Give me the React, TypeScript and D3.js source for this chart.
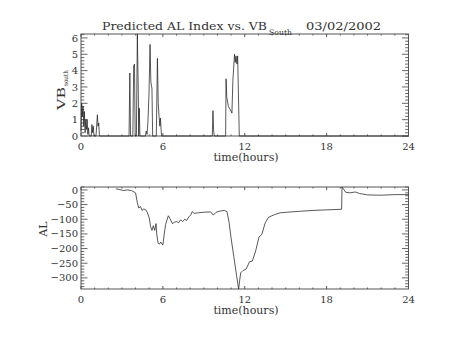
import React, { useEffect, useRef } from 'react';
import * as d3 from 'd3';

// VB south (top panel)
const vbTime = [0, 0.05, 0.1, 0.15, 0.2, 0.25, 0.3, 0.35, 0.4, 0.45, 0.5, 0.55, 0.6, 0.75, 0.8, 0.85, 0.9, 0.95, 1.1, 1.2, 1.25, 1.3, 1.35, 3.52, 3.58, 3.63, 3.8, 3.86, 3.92, 3.97, 4.06, 4.13, 4.2, 4.23, 4.27, 4.32, 4.72, 4.78, 4.84, 4.9, 4.98, 5.06, 5.12, 5.2, 5.25, 5.52, 5.6, 5.66, 5.72, 5.78, 5.82, 5.9, 9.62, 9.67, 9.72, 9.77, 10.6, 10.63, 10.68, 10.8, 10.95, 11.06, 11.13, 11.25, 11.3, 11.36, 11.43, 11.48, 11.6, 24];
const vbValue = [0.3, 2.0, 1.2, 1.8, 0.6, 1.5, 0.2, 1.0, 0.4, 1.0, 0.1, 0.5, 0, 0, 0.7, 0.2, 0.6, 0, 0, 1.3, 0.6, 0.8, 0, 0, 3.85, 0, 0, 4.3, 4.4, 0, 0, 6.24, 2.5, 0, 1.7, 0, 0, 0.3, 0.1, 0.8, 2.5, 5.6, 3.3, 2.9, 0, 0, 4.75, 2.0, 1.2, 0.6, 1.1, 0, 0, 1.55, 0.3, 0, 0, 3.5, 2.4, 1.8, 1.6, 1.4, 3.4, 5.0, 4.5, 4.9, 4.4, 4.9, 0, 0];

// predicted AL (bottom panel)
const alTime = [2.55, 2.85, 3.1, 3.4, 3.7, 4.0, 4.13, 4.23, 4.35, 4.48, 4.6, 4.75, 4.85, 5.0, 5.1, 5.2, 5.3, 5.4, 5.5, 5.55, 5.65, 5.75, 5.85, 6.0, 6.1, 6.2, 6.4, 6.55, 6.7, 6.85, 7.0, 7.15, 7.3, 7.45, 7.6, 7.75, 7.9, 8.05, 8.15, 8.3, 8.6, 9.0, 9.5, 9.7, 9.9, 10.2, 10.5, 10.7, 10.85, 11.0, 11.2, 11.4, 11.55, 11.7, 11.87, 12.1, 12.35, 12.55, 12.8, 13.05, 13.25, 13.5, 13.75, 14.2, 14.6, 15.1, 16.0, 17.0, 18.0, 19.1, 19.13, 19.4, 19.7, 20.1, 20.4, 21.0, 22.0, 23.0, 24.0];
const alValue = [4, 1, -2, 0, -2, -10, -44, -62, -56, -70, -65, -68, -76, -95, -125, -138, -122, -138, -115, -150, -182, -185, -178, -188, -150, -118, -88, -100, -115, -110, -108, -112, -102, -108, -100, -104, -92, -85, -74, -80, -78, -76, -75, -86, -76, -72, -70, -74, -110, -165, -228, -292, -338, -283, -275, -270, -245, -243, -208, -160, -152, -112, -93, -84, -78, -76, -73, -70, -68, -66, 10, -8, -10, -7, -12, -17, -18, -16, -16];

const xTicks = [0, 6, 12, 18, 24];
const vbTicks = [0, 1, 2, 3, 4, 5, 6];
const alTicks = [0, -50, -100, -150, -200, -250, -300];

const W = 454;
const H = 341;
const LEFT = 81;
const RIGHT = 408.5;
const FONT = 'DejaVu Serif';
const INK = '#555';
const TXT = '#333';

type Panel = {
  top: number;
  bottom: number;
  yDomain: [number, number];
  yTicks: number[];
  yMinorStep: number;
  t: number[];
  v: number[];
};

function drawPanel(svg: d3.Selection<SVGSVGElement, unknown, null, undefined>, p: Panel) {
  const x = d3.scaleLinear().domain([0, 24]).range([LEFT, RIGHT]);
  const y = d3.scaleLinear().domain(p.yDomain).range([p.bottom, p.top]);
  const g = svg.append('g');

  // frame
  g.append('rect')
    .attr('x', LEFT).attr('y', p.top)
    .attr('width', RIGHT - LEFT).attr('height', p.bottom - p.top)
    .attr('fill', 'none').attr('stroke', INK).attr('stroke-width', 1);

  // x ticks, bottom and top, pointing in
  d3.range(0, 25, 1).forEach(h => {
    const len = h % 6 === 0 ? 3 : 1.5;
    g.append('line').attr('x1', x(h)).attr('x2', x(h))
      .attr('y1', p.bottom).attr('y2', p.bottom - len)
      .attr('stroke', INK).attr('stroke-width', 1);
    g.append('line').attr('x1', x(h)).attr('x2', x(h))
      .attr('y1', p.top).attr('y2', p.top + len)
      .attr('stroke', INK).attr('stroke-width', 1);
  });

  // y ticks, left and right
  const [y0, y1] = p.yDomain;
  const start = Math.ceil(y0 / p.yMinorStep) * p.yMinorStep;
  for (let v = start; v <= y1 + 1e-9; v += p.yMinorStep) {
    const vv = Math.round(v * 1000) / 1000;
    const major = p.yTicks.some(t => Math.abs(t - vv) < 1e-6);
    const len = major ? 6.5 : 3.3;
    g.append('line').attr('x1', LEFT).attr('x2', LEFT + len)
      .attr('y1', y(vv)).attr('y2', y(vv))
      .attr('stroke', INK).attr('stroke-width', 0.9);
    g.append('line').attr('x1', RIGHT).attr('x2', RIGHT - len)
      .attr('y1', y(vv)).attr('y2', y(vv))
      .attr('stroke', INK).attr('stroke-width', 0.9);
  }

  // tick labels
  g.selectAll('.xl').data(xTicks).enter().append('text')
    .attr('x', d => x(d)).attr('y', p.bottom + 14)
    .attr('text-anchor', 'middle')
    .style('font-family', FONT).style('font-size', '10px').style('fill', TXT)
    .text(d => String(d));

  g.selectAll('.yl').data(p.yTicks).enter().append('text')
    .attr('x', 78).attr('y', d => y(d) + 3.6)
    .attr('text-anchor', 'end')
    .style('font-family', FONT).style('font-size', '10px').style('fill', TXT)
    .text(d => String(d).replace('-', '\u2212'));

  // x label
  g.append('text')
    .attr('x', 246).attr('y', p.bottom + 25)
    .attr('text-anchor', 'middle')
    .style('font-family', FONT).style('font-size', '11px').style('fill', TXT)
    .text('time(hours)');

  // series
  const line = d3.line<number>()
    .x((_, i) => x(p.t[i]))
    .y(d => y(d));
  g.append('path')
    .attr('d', line(p.v))
    .attr('fill', 'none').attr('stroke', '#222').attr('stroke-width', 0.75)
    .attr('stroke-linejoin', 'round');
}

export default function App() {
  const svgRef = useRef<SVGSVGElement>(null);

  useEffect(() => {
    if (!svgRef.current) return;
    const svg = d3.select(svgRef.current);
    svg.selectAll('*').remove();

    svg.append('rect').attr('width', W).attr('height', H).attr('fill', '#fff');

    drawPanel(svg, {
      top: 34, bottom: 136,
      yDomain: [0, d3.max(vbValue)!],
      yTicks: vbTicks, yMinorStep: 0.2,
      t: vbTime, v: vbValue,
    });
    drawPanel(svg, {
      top: 187, bottom: 289,
      yDomain: d3.extent(alValue) as [number, number],
      yTicks: alTicks, yMinorStep: 10,
      t: alTime, v: alValue,
    });

    // title
    const title = svg.append('g').style('font-family', FONT).style('fill', TXT);
    title.append('text').attr('x', 102).attr('y', 29.5)
      .attr('textLength', 165).attr('lengthAdjust', 'spacingAndGlyphs')
      .style('font-size', '11px').text('Predicted AL Index vs. VB');
    title.append('text').attr('x', 269).attr('y', 35)
      .attr('textLength', 23).attr('lengthAdjust', 'spacingAndGlyphs')
      .style('font-size', '7.5px').text('South');
    title.append('text').attr('x', 306).attr('y', 29.5)
      .attr('textLength', 75).attr('lengthAdjust', 'spacingAndGlyphs')
      .style('font-size', '11px').text('03/02/2002');

    // y labels
    const vb = svg.append('g')
      .attr('transform', 'translate(65,110) rotate(-90)')
      .style('font-family', FONT).style('fill', TXT);
    vb.append('text').attr('x', 0).attr('y', 0)
      .attr('textLength', 23).attr('lengthAdjust', 'spacingAndGlyphs')
      .style('font-size', '11px').text('VB');
    vb.append('text').attr('x', 24).attr('y', 3)
      .attr('textLength', 16).attr('lengthAdjust', 'spacingAndGlyphs')
      .style('font-size', '6.5px').text('south');

    svg.append('text')
      .attr('transform', 'translate(47,229) rotate(-90)')
      .attr('text-anchor', 'middle')
      .style('font-family', FONT).style('font-size', '11px').style('fill', TXT)
      .text('AL');
  }, []);

  return (
    <svg
      ref={svgRef}
      width={W}
      height={H}
      style={{ position: 'absolute', left: 0, top: 0 }}
    />
  );
}
